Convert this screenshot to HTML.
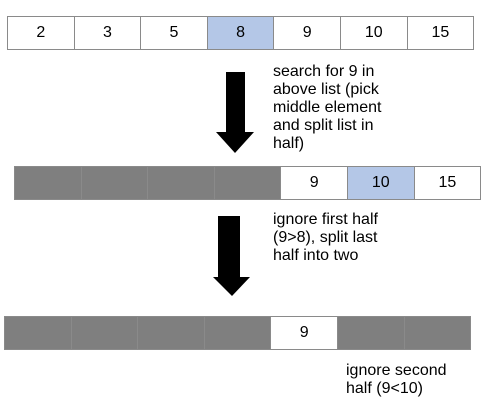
<!DOCTYPE html>
<html><head><style>
body{margin:0;width:481px;height:409px;background:#fff;position:relative;overflow:hidden;font-family:"Liberation Sans",sans-serif;}
.row{position:absolute;display:flex;height:34px;}
.c{width:67.6px;height:34px;box-sizing:border-box;border:1px solid #8a8a8a;margin-right:-1px;display:flex;align-items:center;justify-content:center;font-size:16px;color:#000;background:#fff;}
.b{background:#b4c7e7;}
.g{background:#7f7f7f;border-color:#8a8a8a;}
.t{position:absolute;font-size:16px;line-height:18px;color:#000;}
</style></head><body>
<div class="row" style="left:7px;top:16px;"><div class="c">2</div><div class="c">3</div><div class="c">5</div><div class="c b">8</div><div class="c">9</div><div class="c">10</div><div class="c">15</div></div>
<div class="row" style="left:14px;top:166px;"><div class="c g"></div><div class="c g"></div><div class="c g"></div><div class="c g"></div><div class="c">9</div><div class="c b">10</div><div class="c">15</div></div>
<div class="row" style="left:4px;top:316px;"><div class="c g"></div><div class="c g"></div><div class="c g"></div><div class="c g"></div><div class="c">9</div><div class="c g"></div><div class="c g"></div></div>
<svg width="481" height="409" style="position:absolute;left:0;top:0">
<polygon points="226,72 245,72 245,132 254,132 235,153 216,132 226,132" fill="#000"/>
<polygon points="218,216 240,216 240,277 250,277 232,296 213,277 218,277" fill="#000"/>
</svg>
<div class="t" style="left:273px;top:63px;">search for 9 in<br>above list (pick<br>middle element<br>and split list in<br>half)</div>
<div class="t" style="left:273px;top:211px;">ignore first half<br>(9&gt;8), split last<br>half into two</div>
<div class="t" style="left:346px;top:362px;">ignore second<br>half (9&lt;10)</div>
</body></html>
